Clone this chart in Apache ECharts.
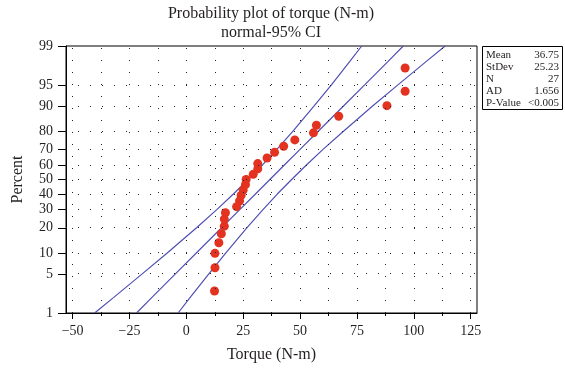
<!DOCTYPE html>
<html>
<head>
<meta charset="utf-8">
<script src="https://cdn.jsdelivr.net/npm/echarts@6/dist/echarts.min.js"></script>
<style>html,body{margin:0;padding:0;background:#fff;}#c{width:565px;height:368px;}</style>
</head>
<body>
<div id="c"></div>
<script>
// ---- data ----
const percentTicks = [1, 5, 10, 20, 30, 40, 50, 60, 70, 80, 90, 95, 99];
const xTicks = [-50, -25, 0, 25, 50, 75, 100, 125];
const xMinorTicks = [-37.5, -12.5, 12.5, 37.5, 62.5, 87.5, 112.5];
const xGridCols = [-50, -37.5, -25, -12.5, 0, 12.5, 25, 37.5, 50, 62.5, 75, 87.5, 100, 112.5, 125];
const torque = [12.4, 12.6, 12.6, 14.3, 15.4, 16.7, 16.7, 17.2, 22.1, 23.4, 24.1, 25.0, 26.0, 26.3,
                29.4, 31.4, 31.4, 35.5, 38.8, 42.8, 47.7, 55.9, 57.2, 67.0, 88.2, 96.2, 96.2];
const percentPts = [2.6, 6.2, 9.9, 13.5, 17.2, 20.8, 24.5, 28.1, 31.8, 35.4, 39.1, 42.7, 46.4, 50.0,
                    53.6, 57.3, 60.9, 64.6, 68.2, 71.9, 75.5, 79.2, 82.8, 86.5, 90.1, 93.8, 97.4];
const ciPercent = [1, 2, 5, 10, 20, 30, 40, 50, 60, 70, 80, 90, 95, 98, 99];
const fitX   = [-21.9, -15.1, -4.8, 4.4, 15.5, 23.5, 30.4, 36.75, 43.1, 50.0, 58.0, 69.1, 78.3, 88.6, 95.4];
const lowerX = [-40.3, -31.9, -19.4, -8.4, 4.5, 13.4, 20.7, 27.2, 33.5, 39.8, 46.9, 56.2, 63.7, 71.8, 77.1];
const upperX = [-3.6, 1.7, 9.9, 17.3, 26.6, 33.7, 40.0, 46.3, 52.8, 60.1, 69.1, 81.9, 92.9, 105.4, 113.8];
const statLabels = ['Mean', 'StDev', 'N', 'AD', 'P-Value'];
const statValues = ['36.75', '25.23', '27', '1.656', '<0.005'];
const titleLines = ['Probability plot of torque (N-m)', 'normal-95% CI'];

// ---- normal probability scale (inverse normal CDF) ----
function probit(p) {
  const a = [-3.969683028665376e+01, 2.209460984245205e+02, -2.759285104469687e+02, 1.383577518672690e+02, -3.066479806614716e+01, 2.506628277459239e+00];
  const b = [-5.447609879822406e+01, 1.615858368580409e+02, -1.556989798598866e+02, 6.680131188771972e+01, -1.328068155288572e+01];
  const c = [-7.784894002430293e-03, -3.223964580411365e-01, -2.400758277161838e+00, -2.549732539343734e+00, 4.374664141464968e+00, 2.938163982698783e+00];
  const d = [7.784695709041462e-03, 3.224671290700398e-01, 2.445134137142996e+00, 3.754408661907416e+00];
  const pl = 0.02425;
  let q, r;
  if (p < pl) {
    q = Math.sqrt(-2 * Math.log(p));
    return (((((c[0]*q+c[1])*q+c[2])*q+c[3])*q+c[4])*q+c[5]) / ((((d[0]*q+d[1])*q+d[2])*q+d[3])*q+1);
  } else if (p <= 1 - pl) {
    q = p - 0.5; r = q*q;
    return (((((a[0]*r+a[1])*r+a[2])*r+a[3])*r+a[4])*r+a[5])*q / (((((b[0]*r+b[1])*r+b[2])*r+b[3])*r+b[4])*r+1);
  } else {
    q = Math.sqrt(-2 * Math.log(1 - p));
    return -(((((c[0]*q+c[1])*q+c[2])*q+c[3])*q+c[4])*q+c[5]) / ((((d[0]*q+d[1])*q+d[2])*q+d[3])*q+1);
  }
}
const Z = pc => probit(pc / 100);
const zTicks = percentTicks.map(Z);
const zMin = Z(1), zMax = Z(99);

const FONT = '"Liberation Serif", "DejaVu Serif", serif';
const INK = '#231f20';
const LINE = '#5050b4';
const dotted = { color: '#222', width: 1, type: [1, 11] };

const pts = torque.map((v, i) => [v, Z(percentPts[i])]);
const mk = arr => arr.map((v, i) => [v, Z(ciPercent[i])]);

const chart = echarts.init(document.getElementById('c'), null, { renderer: 'canvas' });

const graphic = [];
titleLines.forEach((t, i) => {
  graphic.push({ type: 'text', x: 271, y: 14 + i * 19, style: { text: t, font: '16px ' + FONT, fill: INK, textAlign: 'center', textVerticalAlign: 'middle' } });
});
graphic.push({ type: 'rect', shape: { x: 482.5, y: 46.5, width: 80, height: 63 }, style: { fill: '#fff', stroke: '#000', lineWidth: 1 } });
statLabels.forEach((t, i) => {
  graphic.push({ type: 'text', x: 486, y: 55.5 + i * 11.9, style: { text: t, font: '11px ' + FONT, fill: INK, textAlign: 'left', textVerticalAlign: 'middle' } });
  graphic.push({ type: 'text', x: 559, y: 55.5 + i * 11.9, style: { text: statValues[i], font: '11px ' + FONT, fill: INK, textAlign: 'right', textVerticalAlign: 'middle' } });
});

const option = {
  animation: false,
  backgroundColor: '#fff',
  grid: { left: 66, right: 88, top: 46, bottom: 54, show: true, borderColor: '#000', borderWidth: 1, backgroundColor: 'transparent' },
  xAxis: [{
    type: 'value', min: -52.9, max: 127.8, position: 'bottom',
    name: 'Torque (N-m)', nameLocation: 'middle', nameGap: 34,
    nameTextStyle: { fontFamily: FONT, fontSize: 16, color: INK },
    axisLine: { show: true, onZero: false, lineStyle: { color: '#000', width: 1 } },
    axisTick: { show: true, inside: false, length: 6, customValues: xTicks, lineStyle: { color: '#000' } },
    axisLabel: { show: true, customValues: xTicks, margin: 11, fontFamily: FONT, fontSize: 14, color: INK,
      formatter: v => String(v).replace('-', '\u2212') },
    splitLine: { show: false }
  }, {
    type: 'value', min: -52.9, max: 127.8, position: 'bottom', offset: 0,
    axisLine: { show: false, onZero: false },
    axisTick: { show: true, inside: false, length: 3, customValues: xMinorTicks, lineStyle: { color: '#000' } },
    axisLabel: { show: false },
    splitLine: { show: false }
  }],
  yAxis: {
    type: 'value', min: zMin, max: zMax,
    name: 'Percent', nameLocation: 'middle', nameGap: 40,
    nameTextStyle: { fontFamily: FONT, fontSize: 16, color: INK },
    axisLine: { show: true, onZero: false, lineStyle: { color: '#000', width: 1 } },
    axisTick: { show: true, inside: false, length: 8, customValues: zTicks, lineStyle: { color: '#000' } },
    axisLabel: { show: true, customValues: zTicks, margin: 13, fontFamily: FONT, fontSize: 14, color: INK,
      formatter: v => {
        let best = 0;
        zTicks.forEach((z, i) => { if (Math.abs(z - v) < Math.abs(zTicks[best] - v)) best = i; });
        return String(percentTicks[best]);
      } },
    splitLine: { show: false }
  },
  graphic: graphic,
  series: [
    {
      type: 'scatter', data: [], silent: true, z: 1,
      markLine: {
        silent: true, symbol: ['none', 'none'], label: { show: false }, lineStyle: dotted,
        emphasis: { disabled: true },
        data: xGridCols.map(v => ({ xAxis: v })).concat(percentTicks.slice(1, -1).map(p => ({ yAxis: Z(p) })))
      }
    },
    { type: 'line', data: mk(lowerX), showSymbol: false, symbol: 'none', lineStyle: { color: LINE, width: 1.2 }, z: 2, silent: true },
    { type: 'line', data: mk(fitX), showSymbol: false, symbol: 'none', lineStyle: { color: LINE, width: 1.2 }, z: 2, silent: true },
    { type: 'line', data: mk(upperX), showSymbol: false, symbol: 'none', lineStyle: { color: LINE, width: 1.2 }, z: 2, silent: true },
    { type: 'scatter', data: pts, symbol: 'circle', symbolSize: 9, itemStyle: { color: '#e3321f', opacity: 1 }, z: 3 }
  ]
};
chart.setOption(option);
</script>
</body>
</html>
